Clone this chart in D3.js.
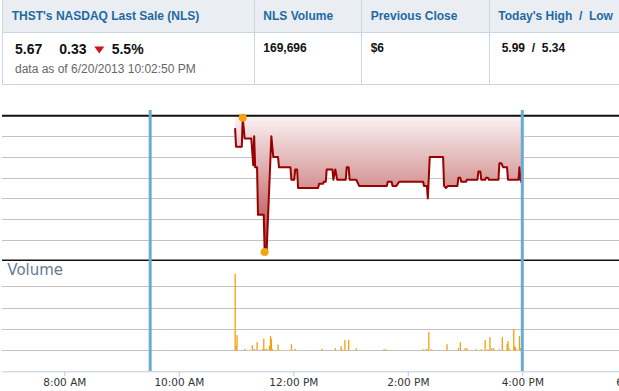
<!DOCTYPE html>
<html>
<head>
<meta charset="utf-8">
<script src="https://cdn.jsdelivr.net/npm/d3@7"></script>
<style>
  body { margin: 0; background: #fff; }
  svg { display: block; }
  .hdr { font-family: "Liberation Sans", Arial, sans-serif; }
  .ax { font-family: "DejaVu Sans", sans-serif; }
</style>
</head>
<body>
<div id="chart"></div>
<script>
// THST intraday chart: NASDAQ last sale + volume
const width = 619, height = 391;

// price trades (time, price)
const priceTimes = ["10:59","11:00","11:06","11:07","11:09","11:16","11:18","11:19","11:20","11:22",
  "11:23","11:29","11:30","11:32","11:37","11:39","11:44","11:45","11:57","11:58",
  "12:01","12:02","12:04","12:05","12:26","12:27","12:31","12:32","12:34","12:35",
  "12:41","12:42","12:44","12:46","12:55","12:56","12:58","12:59","13:06","13:07",
  "13:09","13:38","13:39","13:43","13:44","13:48","13:51","14:16","14:17","14:20",
  "14:21","14:23","14:37","14:38","14:40","14:42","14:52","14:53","14:55","14:56",
  "15:01","15:02","15:13","15:14","15:16","15:17","15:21","15:22","15:24","15:25",
  "15:35","15:36","15:38","15:40","15:44","15:45","15:56","15:57","15:58","16:00"];
const prices = [5.94,5.85,5.85,5.99,5.89,5.89,5.76,5.90,5.75,5.75,
  5.52,5.52,5.34,5.34,5.90,5.80,5.80,5.75,5.75,5.69,
  5.69,5.74,5.74,5.65,5.65,5.67,5.67,5.68,5.68,5.74,
  5.74,5.69,5.74,5.69,5.69,5.75,5.75,5.69,5.69,5.68,
  5.66,5.66,5.68,5.68,5.66,5.66,5.68,5.68,5.66,5.66,
  5.60,5.80,5.80,5.66,5.65,5.66,5.66,5.70,5.70,5.68,
  5.68,5.69,5.69,5.73,5.73,5.69,5.69,5.70,5.70,5.69,
  5.69,5.77,5.77,5.75,5.75,5.69,5.69,5.75,5.69,5.67];

// volume bars (time, shares)
const volTimes = ["10:59","11:00","11:01","11:09","11:17","11:19","11:22","11:28","11:29","11:30",
  "11:32","11:35","11:36","11:37","11:38","11:44","11:58","12:02","12:30","12:44",
  "12:50","12:51","12:54","12:58","13:06","13:35","13:37","14:16","14:19","14:20",
  "14:22","14:25","14:41","14:53","14:55","15:00","15:02","15:11","15:17","15:21",
  "15:24","15:26","15:28","15:30","15:36","15:39","15:44","15:45","15:46","15:51",
  "15:52","15:53","15:57","15:58"];
const volumes = [35900,2200,7100,600,2400,600,3800,600,5400,600,
  600,1900,6700,5400,600,2700,2900,600,600,1000,
  1900,500,4800,4800,1000,500,500,500,500,500,
  8600,500,2900,1000,3800,1000,1000,500,500,4800,
  500,6200,1000,1000,500,6200,2900,4300,1000,10000,
  1900,1400,6700,1000];

const tickTimes = ["08:00","10:00","12:00","14:00","16:00","18:00"];
const priceGrid = [5.4, 5.5, 5.6, 5.7, 5.8, 5.9];
const volGrid = [0, 10000, 20000, 30000];
const prevClose = 6.0, dayHigh = 5.99, dayLow = 5.34;
const highTime = "11:07", lowTime = "11:30";
const sessionLines = ["09:30", "16:00"];

const parse = d3.timeParse("%H:%M");

const svg = d3.select("#chart").append("svg")
  .attr("width", width).attr("height", height);

// ---------- header table ----------
const hdr = svg.append("g").attr("class", "hdr");
hdr.append("rect").attr("x", 2).attr("y", 0).attr("width", width).attr("height", 32).attr("fill", "#eaedf1");
const borderC = "#c8d7e6";
hdr.append("line").attr("x1", 2).attr("x2", width).attr("y1", 32.5).attr("y2", 32.5).attr("stroke", borderC);
hdr.append("line").attr("x1", 2).attr("x2", width).attr("y1", 84.5).attr("y2", 84.5).attr("stroke", borderC);
hdr.append("line").attr("x1", 2.5).attr("x2", 2.5).attr("y1", 0).attr("y2", 85).attr("stroke", borderC);
[254.5, 361.5, 489.5].forEach(x => {
  hdr.append("line").attr("x1", x).attr("x2", x).attr("y1", 0).attr("y2", 85).attr("stroke", borderC);
});

const heads = [["THST's NASDAQ Last Sale (NLS)", 11.7], ["NLS Volume", 263.3],
  ["Previous Close", 370.7], ["Today's High  /  Low", 498.3]];
heads.forEach(([t, x]) => {
  hdr.append("text").attr("x", x).attr("y", 19.5).attr("font-size", 12).attr("font-weight", "bold")
    .attr("fill", "#1d6aa3").style("white-space", "pre").text(t);
});
const bold = (t, x, y, s) => hdr.append("text").attr("x", x).attr("y", y).attr("font-size", s)
  .attr("font-weight", "bold").attr("fill", "#111").style("white-space", "pre").text(t);
bold("5.67", 15, 54, 14);
bold("0.33", 59.3, 54, 14);
hdr.append("path").attr("d", "M94.3,46.5 L104.3,46.5 L99.3,53.5 Z").attr("fill", "#d0111b");
bold("5.5%", 111.7, 54, 14);
bold("169,696", 263.3, 52, 12);
bold("$6", 370.7, 52, 12);
bold("5.99  /  5.34", 501.7, 52.3, 12);
hdr.append("text").attr("x", 15).attr("y", 72.7).attr("font-size", 12).attr("fill", "#666")
  .text("data as of 6/20/2013 10:02:50 PM");

// ---------- scales ----------
const x = d3.scaleTime().domain([parse("08:00"), parse("16:00")]).range([64.3, 522.3]);
const y = d3.scaleLinear().domain([5.3, 6.0]).range([260.3, 115.7]);
const yv = d3.scaleLinear().domain([0, 40000]).range([350.3, 265]);

const grid = svg.append("g");
priceGrid.forEach(v => {
  grid.append("line").attr("x1", 2).attr("x2", width).attr("y1", Math.round(y(v)) + 0.5)
    .attr("y2", Math.round(y(v)) + 0.5).attr("stroke", "#c3c3c3").attr("stroke-width", 1.2);
});
volGrid.forEach(v => {
  grid.append("line").attr("x1", 2).attr("x2", width).attr("y1", Math.round(yv(v)) + 0.5)
    .attr("y2", Math.round(yv(v)) + 0.5).attr("stroke", "#c3c3c3").attr("stroke-width", 1.2);
});

// ---------- price area + line ----------
const pts = priceTimes.map((t, i) => ({t: parse(t), p: prices[i]}));

const defs = svg.append("defs");
const grad = defs.append("linearGradient").attr("id", "fillGrad")
  .attr("gradientUnits", "userSpaceOnUse")
  .attr("x1", 0).attr("x2", 0).attr("y1", y(prevClose)).attr("y2", y(dayLow));
grad.append("stop").attr("offset", "0%").attr("stop-color", "#fbf3f3");
grad.append("stop").attr("offset", "100%").attr("stop-color", "#b13c3c");

svg.append("path").datum(pts)
  .attr("d", d3.area().x(d => x(d.t)).y0(y(prevClose)).y1(d => y(d.p)))
  .attr("fill", "url(#fillGrad)");

svg.append("path").datum(pts)
  .attr("d", d3.line().x(d => x(d.t)).y(d => y(d.p)))
  .attr("fill", "none").attr("stroke", "#990000").attr("stroke-width", 2)
  .attr("stroke-linejoin", "round");

// previous close line + panel divider
svg.append("line").attr("x1", 2).attr("x2", width).attr("y1", y(prevClose)).attr("y2", y(prevClose))
  .attr("stroke", "#111").attr("stroke-width", 2);
svg.append("line").attr("x1", 2).attr("x2", width).attr("y1", y(5.3)).attr("y2", y(5.3))
  .attr("stroke", "#111").attr("stroke-width", 1.5);

// ---------- volume ----------
svg.append("text").attr("class", "ax").attr("x", 7.3).attr("y", 274.5)
  .attr("font-size", 15).attr("fill", "#667b97").text("Volume");

svg.append("g").selectAll("rect")
  .data(volTimes.map((t, i) => ({t: parse(t), v: volumes[i]})))
  .join("rect")
  .attr("x", d => x(d.t) - 0.6).attr("width", 1.3)
  .attr("y", d => yv(d.v)).attr("height", d => yv(0) - yv(d.v))
  .attr("fill", "#f5a00a");

// ---------- time axis ----------
const axis = svg.append("g").attr("class", "ax").attr("transform", "translate(0,371.3)")
  .call(d3.axisBottom(x).tickValues(tickTimes.map(parse))
    .tickFormat(d3.timeFormat("%-I:%M %p")).tickSize(5).tickSizeOuter(0));
axis.select(".domain").attr("d", `M2,0.5H${width}`).attr("stroke", "#bccbdb");
axis.selectAll(".tick line").attr("stroke", "#bccbdb");
axis.selectAll(".tick text").attr("font-size", 10.5).attr("fill", "#333").attr("dy", "0.62em")
  .attr("font-family", "DejaVu Sans, sans-serif");

// ---------- session markers ----------
sessionLines.forEach(t => {
  svg.append("line").attr("x1", x(parse(t))).attr("x2", x(parse(t)))
    .attr("y1", 110).attr("y2", 371).attr("stroke", "#67acd4").attr("stroke-width", 3);
});

// high / low dots
[[highTime, dayHigh], [lowTime, dayLow]].forEach(([t, p]) => {
  svg.append("circle").attr("cx", x(parse(t))).attr("cy", y(p)).attr("r", 4).attr("fill", "#f6a10e");
});
</script>
</body>
</html>
